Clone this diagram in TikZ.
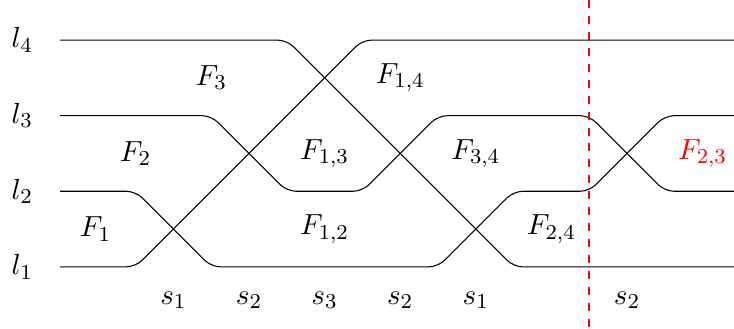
\documentclass[tikz,border=0pt,11pt]{standalone}
\usepackage{amsmath,amssymb}
\usetikzlibrary{calc}

\begin{document}
\begin{tikzpicture}[
    strand/.style={rounded corners=3.5pt},
    cut/.style={red, thick, dashed},
    gen/.style={inner sep=1pt}
]
\useasboundingbox (-0.794,-0.82) rectangle (8.915,3.53);

% levels
\node (l1) at (-0.5,0) {$l_1$};
\node (l2) at (-0.5,1) {$l_2$};
\node (l3) at (-0.5,2) {$l_3$};
\node (l4) at (-0.5,3) {$l_4$};

% strands
\coordinate (a1) at (0,0); \coordinate (b1) at (8.915,3);
\coordinate (a2) at (0,1); \coordinate (b2) at (8.915,2);
\coordinate (a3) at (0,2); \coordinate (b3) at (8.915,1);
\coordinate (a4) at (0,3); \coordinate (b4) at (8.915,0);
\draw[strand] (a1) -- (1,0) -- (4,3) -- (b1);
\draw[strand] (a2) -- (1,1) -- (2,0) -- (5,0) -- (6,1) -- (7,1) -- (8,2) -- (b2);
\draw[strand] (a3) -- (2,2) -- (3,1) -- (4,1) -- (5,2) -- (7,2) -- (8,1) -- (b3);
\draw[strand] (a4) -- (3,3) -- (6,0) -- (b4);

% cut
\coordinate (ctop) at (7,3.53);
\coordinate (cbot) at (7,-0.82);
\draw[cut] (ctop) -- (cbot);

% regions
\node (f1) at (0.47,0.5) {$F_1$};
\node (f2) at (1,1.5) {$F_2$};
\node (f3) at (2,2.5) {$F_3$};
\node (f12) at (3.5,0.5) {$F_{1,2}$};
\node (f13) at (3.5,1.5) {$F_{1,3}$};
\node (f14) at (4.5,2.5) {$F_{1,4}$};
\node (f34) at (5.5,1.5) {$F_{3,4}$};
\node (f24) at (6.5,0.5) {$F_{2,4}$};
\node[red] (f23) at (8.5,1.5) {$F_{2,3}$};

% generators
\node[gen] (g1) at (1.5,-0.44) {$s_1$};
\node[gen] (g2) at (2.5,-0.44) {$s_2$};
\node[gen] (g3) at (3.5,-0.44) {$s_3$};
\node[gen] (g4) at (4.5,-0.44) {$s_2$};
\node[gen] (g5) at (5.5,-0.44) {$s_1$};
\node[gen] (g6) at (7.5,-0.44) {$s_2$};
\end{tikzpicture}
\end{document}
